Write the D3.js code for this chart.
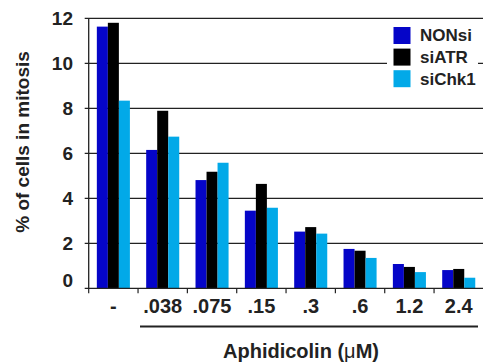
<!DOCTYPE html>
<html>
<head>
<meta charset="utf-8">
<script src="https://cdn.jsdelivr.net/npm/d3@7"></script>
<style>
  html, body { margin: 0; padding: 0; background: #fff; }
  svg { display: block; }
  text { font-family: "Liberation Sans", Arial, Helvetica, sans-serif; font-weight: bold; fill: #222; }
</style>
</head>
<body>
<svg id="chart" width="483" height="363"></svg>
<script>
const categories = ["-", ".038", ".075", ".15", ".3", ".6", "1.2", "2.4"];
const seriesNames = ["NONsi", "siATR", "siChk1"];
const seriesColors = ["#0505c8", "#000000", "#02a9e8"];
const NONsi  = [11.63, 6.15, 4.81, 3.45, 2.52, 1.75, 1.08, 0.81];
const siATR  = [11.80, 7.89, 5.18, 4.64, 2.72, 1.67, 0.95, 0.86];
const siChk1 = [8.34, 6.74, 5.58, 3.58, 2.43, 1.35, 0.72, 0.47];
const yTicks = [0, 2, 4, 6, 8, 10, 12];
const yTitle = "% of cells in mitosis";
const xTitle = "Aphidicolin (";
const xTitleUnit = "\u03BC";
const xTitleEnd = "M)";

const seriesValues = [NONsi, siATR, siChk1];

const svg = d3.select("#chart");
const pLeft = 88.7, pRight = 483.4, pTop = 18.3, pBottom = 288.3;

const x = d3.scaleBand().domain(categories).range([pLeft, pRight]).paddingInner(0.33).paddingOuter(0.165);
const xs = d3.scaleBand().domain(seriesNames).range([0, x.bandwidth()]).padding(0);
const y = d3.scaleLinear().domain([0, 12]).range([pBottom, pTop]);

// gridlines
svg.append("g").selectAll("line").data(yTicks.filter(d => d > 0)).join("line")
  .attr("x1", pLeft - 4).attr("x2", pRight)
  .attr("y1", d => y(d)).attr("y2", d => y(d))
  .attr("stroke", "#222").attr("stroke-width", 1.2);

// bars
const rows = categories.map((c, i) => ({ cat: c, vals: seriesNames.map((s, j) => ({ s, j, v: seriesValues[j][i] })) }));
svg.append("g").selectAll("g").data(rows).join("g")
  .attr("transform", d => `translate(${x(d.cat)},0)`)
  .selectAll("rect").data(d => d.vals).join("rect")
  .attr("x", d => xs(d.s)).attr("width", xs.bandwidth())
  .attr("y", d => y(d.v)).attr("height", d => y(0) - y(d.v))
  .attr("fill", d => seriesColors[d.j]);

// y axis line
svg.append("line").attr("x1", pLeft).attr("x2", pLeft).attr("y1", pTop).attr("y2", pBottom)
  .attr("stroke", "#222").attr("stroke-width", 1.3);
// x axis line
svg.append("line").attr("x1", pLeft - 4).attr("x2", pRight).attr("y1", pBottom).attr("y2", pBottom)
  .attr("stroke", "#222").attr("stroke-width", 1.3);
// x ticks at band boundaries
const boundaries = categories.map(c => x(c) - x.step() * x.paddingInner() / 2);
svg.append("g").selectAll("line").data(boundaries).join("line")
  .attr("x1", d => d).attr("x2", d => d).attr("y1", pBottom).attr("y2", pBottom + 5)
  .attr("stroke", "#222").attr("stroke-width", 1.2);

// y tick labels
svg.append("g").selectAll("text").data(yTicks).join("text")
  .attr("x", 73).attr("y", d => y(d) - (d === 0 ? 7.5 : 0))
  .attr("dy", "0.35em").attr("text-anchor", "end")
  .attr("font-size", 19).text(d => d);

// x tick labels
svg.append("g").selectAll("text").data(categories).join("text")
  .attr("x", d => x(d) + x.bandwidth() / 2).attr("y", 313)
  .attr("text-anchor", "middle").attr("font-size", 20).text(d => d);

// underline for Aphidicolin group
svg.append("line").attr("x1", 140).attr("x2", 478).attr("y1", 326.5).attr("y2", 326.5)
  .attr("stroke", "#222").attr("stroke-width", 2.2);

// x title
const xt = svg.append("text").attr("x", 301).attr("y", 358).attr("text-anchor", "middle").attr("font-size", 20);
xt.append("tspan").text(xTitle);
xt.append("tspan").attr("font-weight", "normal").text(xTitleUnit);
xt.append("tspan").text(xTitleEnd);

// y title
svg.append("text").attr("transform", "translate(29,142) rotate(-90)")
  .attr("text-anchor", "middle").attr("font-size", 19).text(yTitle);

// legend
const lg = svg.append("g");
lg.append("rect").attr("x", 387).attr("y", 22).attr("width", 91).attr("height", 71).attr("fill", "#fff");
const li = lg.selectAll("g").data(seriesNames).join("g")
  .attr("transform", (d, i) => `translate(393.5,${27 + i * 21.6})`);
li.append("rect").attr("width", 17).attr("height", 17).attr("fill", (d, i) => seriesColors[i]);
li.append("text").attr("x", 26.5).attr("y", 8.5).attr("dy", "0.35em").attr("font-size", 17).text(d => d);
</script>
</body>
</html>
